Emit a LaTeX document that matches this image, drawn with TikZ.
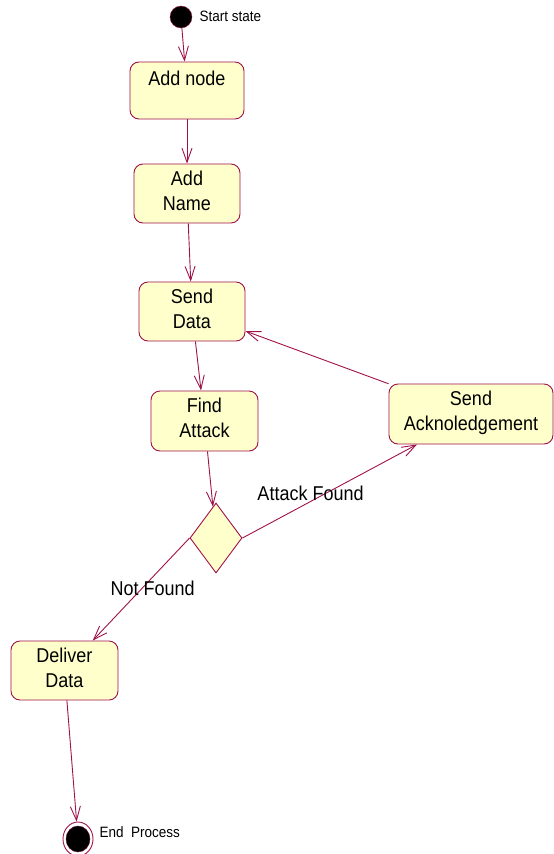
\documentclass[tikz,border=0pt]{standalone}
\usepackage{fontspec}
\setmainfont[FakeStretch=0.9]{Liberation Sans}
\usepackage{tikz}
\usetikzlibrary{arrows.meta,shapes.geometric}
\definecolor{umlred}{HTML}{A0124A}
\definecolor{umlfill}{HTML}{FFFFCC}

\begin{document}
\begin{tikzpicture}[x=1pt,y=-1pt,
  act/.style={draw=umlred,line width=0.9pt,fill=umlfill,rounded corners=9pt,inner sep=0pt,
    align=center,font=\fontsize{20}{25}\selectfont},
  flow/.style={draw=umlred,line width=0.9pt,-{Straight Barb[length=14pt,width=10pt]}},
  guard/.style={font=\fontsize{20}{25}\selectfont},
  note/.style={font=\fontsize{15}{18}\selectfont,anchor=west}]
  \useasboundingbox (0,0) rectangle (554,854);
      \draw (181,17) node[circle,draw=umlred,fill=black,minimum size=22pt,inner sep=0pt] (start) {};
  \draw (196,16) node[note] (startlbl) {Start state};
  \draw (187,90.5) node[act,minimum width=114pt,minimum height=57pt] (addnode) {Add node\\[-8pt] \strut};
  \draw (187,193.5) node[act,minimum width=106pt,minimum height=59pt] (addname) {Add\\Name\\[-19pt]};
  \draw (192,311.5) node[act,minimum width=106pt,minimum height=59pt] (send) {Send\\Data\\[-19pt]};
  \draw (204.5,421) node[act,minimum width=107pt,minimum height=60pt] (find) {Find\\Attack\\[-19pt]};
  \draw (471,414) node[act,minimum width=164pt,minimum height=60pt] (ack) {Send\\Acknoledgement\\[-19pt]};
      \draw (216,538) node[diamond,draw=umlred,line width=0.9pt,fill=umlfill,minimum width=52pt,minimum height=70pt,inner sep=0pt] (check) {};
  \draw (64.5,670.5) node[act,minimum width=107pt,minimum height=59pt] (deliver) {Deliver\\Data\\[-19pt]};
  \draw (78,839) node[ellipse,draw=umlred,line width=0.9pt,fill=white,minimum width=30pt,minimum height=34pt,inner sep=0pt] (stop) {};
  \draw (78,839) node[ellipse,draw=umlred!60!black,fill=black,minimum width=24pt,minimum height=26pt,inner sep=0pt] (stopdot) {};
  \draw (96,832) node[note] (stoplbl) {End\enspace Process};
     \path[flow] (start) edge (addnode);
     \path[flow] (addnode) edge (addname);
     \path[flow] (addname) edge (send);
     \path[flow] (send) edge (find);
     \path[flow] (find) edge (check);
     \draw[flow] (check.east) -- node[guard,pos=0.39,yshift=8pt] {Attack Found} ([xshift=-54pt]ack.south);
     \path[flow] (ack) edge (send);
     \draw[flow] (check.west) -- node[guard,pos=0.38,yshift=-11pt] {Not Found} (deliver);
     \path[flow] (deliver) edge (stop);
\end{tikzpicture}
\end{document}
